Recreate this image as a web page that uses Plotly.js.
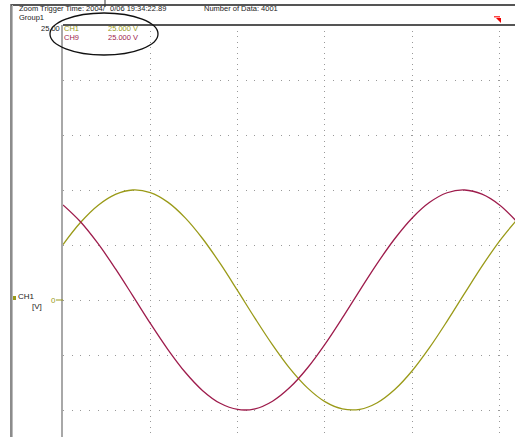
<!DOCTYPE html>
<html>
<head>
<meta charset="utf-8">
<script src="https://cdn.plot.ly/plotly-3.0.1.min.js"></script>
<style>html,body{margin:0;padding:0;background:#fff;}#chart{width:515px;height:437px;}</style>
</head>
<body>
<div id="chart"></div>
<script>
// Time axis in divisions
var xDiv = [0,0.2,0.4,0.6,0.8,1.0,1.2,1.4,1.6,1.8,2.0,2.2,2.4,2.6,2.8,3.0,3.2,3.4,3.6,3.8,4.0,4.2,4.4,4.6,4.8,5.0,5.2];
// CH1 (yellow) values, V
var ch1 = [5.04,7.04,8.59,9.60,10.00,9.76,8.90,7.47,5.57,3.32,0.85,-1.67,-4.08,-6.24,-7.99,-9.24,-9.90,-9.94,-9.34,-8.14,-6.43,-4.31,-1.92,0.60,3.08,5.36,7.31];
// CH9 (crimson) values, V
var ch9 = [8.64,7.11,5.14,2.85,0.38,-2.12,-4.48,-6.57,-8.24,-9.39,-9.95,-9.89,-9.20,-7.94,-6.18,-4.03,-1.63,0.88,3.33,5.57,7.46,8.88,9.75,10.00,9.62,8.64,7.11];

var headerLeft = "Zoom Trigger Time: 2004/";
var headerDate = "0/06 19:34:22.89";
var headerCount = "Number of Data: 4001";
var groupLabel = "Group1";
var chNames = ["CH1","CH9"];
var chScales = ["25.000 V","25.000 V"];
var topValue = "25.00";

var W = 515, H = 437, L = 63, T = 25;
function px(x){ return (x - L) / (W - L); }
function py(y){ return (H - y) / (H - T); }

var YEL = '#9a9a18', RED = '#9e1c4c';
var FONT = 'Liberation Sans Narrow, Liberation Sans, Arial, sans-serif';

var traces = [
  {x: xDiv, y: ch1, type: 'scatter', mode: 'lines', line: {color: YEL, width: 1.3, shape: 'spline'}, name: chNames[0]},
  {x: xDiv, y: ch9, type: 'scatter', mode: 'lines', line: {color: RED, width: 1.3, shape: 'spline'}, name: chNames[1]}
];

function ann(x, y, text, color, anchor, size){
  return {xref: 'paper', yref: 'paper', x: px(x), y: py(y), text: text, showarrow: false,
    xanchor: anchor || 'left', yanchor: 'middle', borderpad: 0,
    font: {family: FONT, size: size || 7.5, color: color || '#222'}};
}

var annotations = [
  ann(18, 8.5, headerLeft),
  ann(109, 8.5, headerDate),
  ann(203, 8.5, headerCount),
  ann(18, 17.5, groupLabel),
  ann(61, 28.5, topValue, '#222', 'right'),
  ann(63, 28.5, chNames[0], YEL),
  ann(107, 28.5, chScales[0], YEL),
  ann(63, 37.5, chNames[1], RED),
  ann(107, 37.5, chScales[1], RED),
  ann(17, 297, chNames[0], '#222', 'left', 8),
  ann(31, 306, '[V]', '#222', 'left', 8),
  ann(50, 300, '0', YEL, 'left', 8)
];

function lineShape(x0, y0, x1, y1, color, width){
  return {type: 'line', xref: 'paper', yref: 'paper', x0: px(x0), y0: py(y0), x1: px(x1), y1: py(y1),
    line: {color: color, width: width}};
}

var shapes = [
  lineShape(11, 5, 515, 5, '#555', 2),
  lineShape(11, 4, 11, 437, '#666', 1.5),
  lineShape(12.5, 5, 12.5, 437, '#bbb', 1),
  lineShape(63, 25, 515, 25, '#555', 2),
  lineShape(105, 0, 105, 7, '#333', 1),
  lineShape(56, 300, 63, 300, YEL, 1),
  {type: 'rect', xref: 'paper', yref: 'paper', x0: px(13), x1: px(16), y0: py(300), y1: py(296),
    line: {width: 0}, fillcolor: YEL},
  {type: 'circle', xref: 'paper', yref: 'paper', x0: px(50), x1: px(158), y0: py(55), y1: py(13),
    line: {color: '#111', width: 1.3}},
  {type: 'path', xref: 'paper', yref: 'paper',
    path: 'M' + px(494) + ',' + py(16) + ' L' + px(500) + ',' + py(16) + ' L' + px(500) + ',' + py(17.5) + ' L' + px(494) + ',' + py(17.5) + ' Z',
    fillcolor: '#f44', line: {width: 0}},
  {type: 'path', xref: 'paper', yref: 'paper',
    path: 'M' + px(496) + ',' + py(18) + ' L' + px(501) + ',' + py(18) + ' L' + px(501) + ',' + py(23) + ' Z',
    fillcolor: '#e00', line: {width: 0}}
];

var layout = {
  width: W, height: H,
  margin: {l: L, r: 0, t: T, b: 0, pad: 0, autoexpand: false},
  paper_bgcolor: '#fff', plot_bgcolor: '#fff',
  showlegend: false,
  xaxis: {range: [0, (W - L) / 87.3], dtick: 1, tick0: 0, showticklabels: false, ticks: '',
    showgrid: true, gridcolor: '#999', gridwidth: 1, griddash: '1px,4.5px',
    zeroline: false, showline: false, fixedrange: true},
  yaxis: {range: [-(H - 300) / 11, 25], dtick: 5, tick0: 0, showticklabels: false, ticks: '',
    showgrid: true, gridcolor: '#999', gridwidth: 1, griddash: '1px,7.7px',
    zeroline: false, showline: true, linecolor: '#a8a8a8', linewidth: 2, mirror: false, fixedrange: true},
  annotations: annotations,
  shapes: shapes
};

Plotly.newPlot('chart', traces, layout, {staticPlot: true, displayModeBar: false});
</script>
</body>
</html>
